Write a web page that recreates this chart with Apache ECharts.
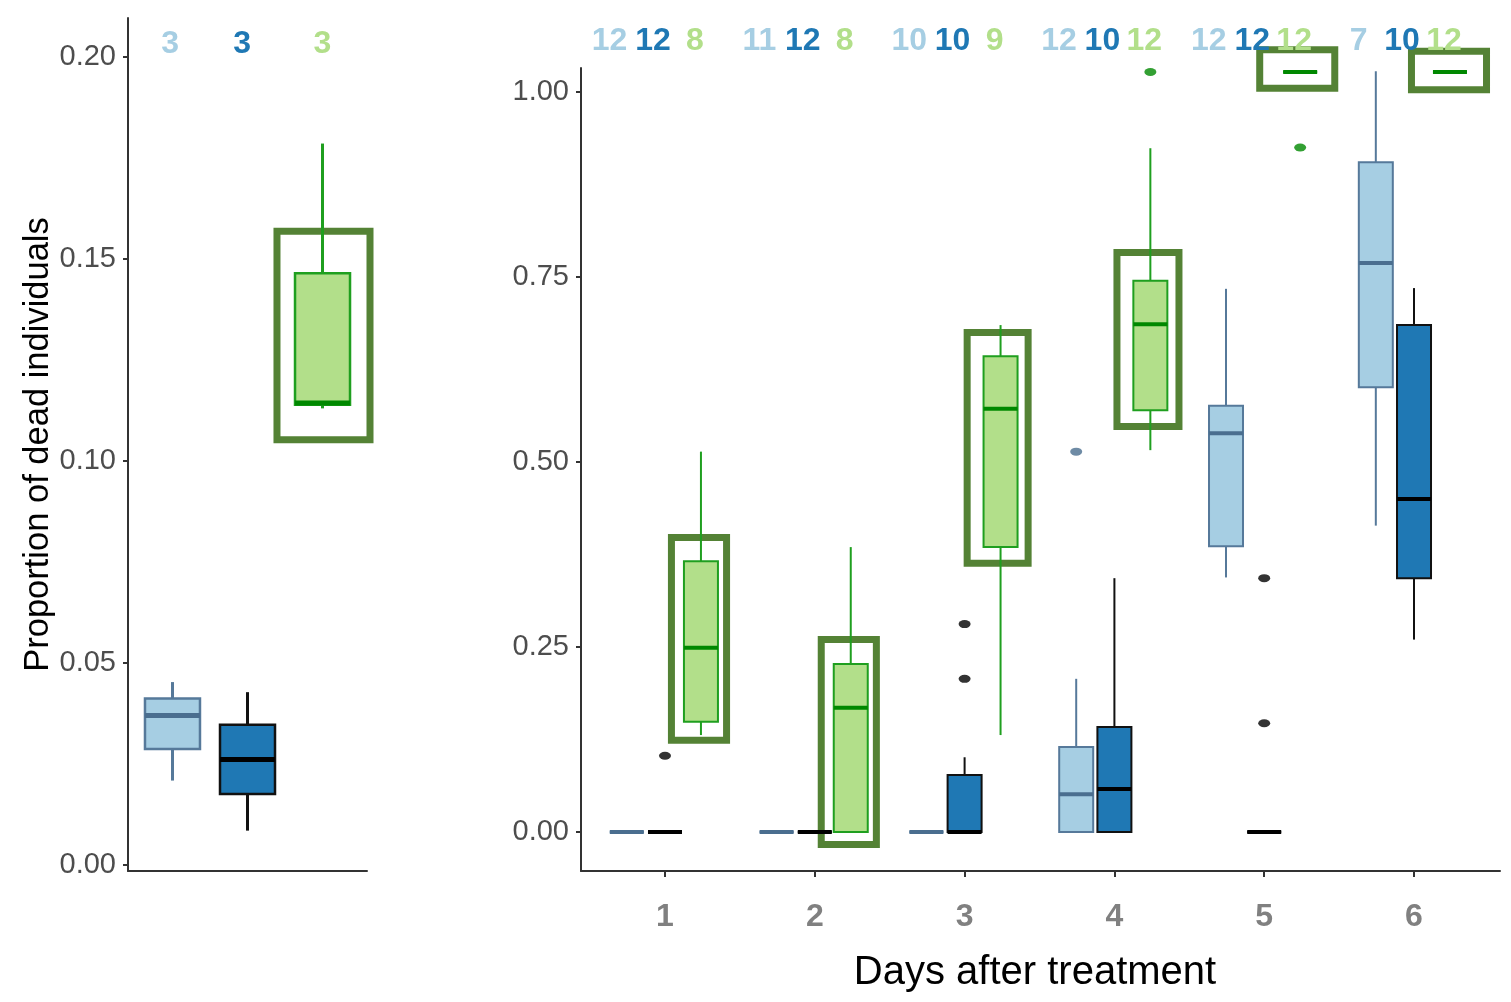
<!DOCTYPE html>
<html>
<head>
<meta charset="utf-8">
<script src="https://cdn.jsdelivr.net/npm/echarts@6/dist/echarts.min.js"></script>
<style>
  html, body { margin: 0; padding: 0; background: #fff; }
  #chart { width: 1511px; height: 1002px; }
</style>
</head>
<body>
<div id="chart"></div>
<script>
// stats are [min, q1, median, q3, max]
// left panel: pooled, one box per treatment
const pooledStats = [
  [0.0208, 0.0286, 0.0369, 0.0411, 0.0452],
  [0.0084, 0.0175, 0.0260, 0.0346, 0.0427],
  [0.1130, 0.1139, 0.1143, 0.1465, 0.1786]
]
const pooledCounts = [3, 3, 3]
// highlight frame around the green box [x1, y1, x2, y2]
const pooledHighlight = [[2.393, 0.1569, 3.633, 0.1052]]

// right panel: per day
const days = [1, 2, 3, 4, 5, 6]
const lightBlueStats = [
  [0, 0, 0, 0, 0],
  [0, 0, 0, 0, 0],
  [0, 0, 0, 0, 0],
  [0, 0, 0.051, 0.115, 0.207],
  [0.344, 0.386, 0.539, 0.576, 0.734],
  [0.414, 0.601, 0.769, 0.905, 1.028]
]
const darkBlueStats = [
  [0, 0, 0, 0, 0],
  [0, 0, 0, 0, 0],
  [0, 0, 0, 0.077, 0.101],
  [0, 0, 0.058, 0.142, 0.343],
  [0, 0, 0, 0, 0],
  [0.260, 0.343, 0.450, 0.685, 0.735]
]
const greenStats = [
  [0.131, 0.149, 0.249, 0.366, 0.514],
  [0, 0, 0.168, 0.227, 0.385],
  [0.131, 0.385, 0.572, 0.643, 0.685],
  [0.516, 0.570, 0.686, 0.745, 0.924],
  [1.027, 1.027, 1.027, 1.027, 1.027],
  [1.027, 1.027, 1.027, 1.027, 1.027]
]
// outliers [day, value]
const lightBlueOutliers = [[4, 0.514]]
const darkBlueOutliers = [[1, 0.103], [3, 0.281], [3, 0.207], [5, 0.343], [5, 0.147]]
const greenOutliers = [[4, 1.027], [5, 0.925]]

const lightBlueCounts = [12, 11, 10, 12, 12, 7]
const darkBlueCounts = [12, 12, 10, 10, 12, 10]
const greenCounts = [8, 8, 9, 12, 12, 12]

const dailyHighlights = [
  [1.043, 0.398, 1.411, 0.124],
  [2.043, 0.260, 2.411, -0.017],
  [3.017, 0.675, 3.424, 0.363],
  [4.017, 0.783, 4.431, 0.548],
  [4.970, 1.057, 5.471, 1.005],
  [5.983, 1.055, 6.484, 1.003]
]

// styling
const groupStyles = [
  { fill: '#a6cee3', line: '#56799a', median: '#4a6e8f', text: '#a6cee3' },
  { fill: '#1f78b4', line: '#111111', median: '#000000', text: '#1f78b4' },
  { fill: '#b2df8a', line: '#1f9f1f', median: '#008800', text: '#b2df8a' }
]
const GROUP_OFFSET = [-0.255, 0, 0.24]
const COUNT_OFFSET = [-0.37, -0.08, 0.2]
const POOLED_COUNT_OFFSET = [-0.03, -0.07, 0]
const SANS = '"Liberation Sans", Arial, sans-serif'
const FRAME_COLOR = '#548235'

const pooledBoxData = pooledStats.map((s, g) => [g + 1, ...s, g])
const pooledCountData = pooledCounts.map((c, g) => [g + 1 + POOLED_COUNT_OFFSET[g], c, g])

const groupStats = [lightBlueStats, darkBlueStats, greenStats]
const groupCounts = [lightBlueCounts, darkBlueCounts, greenCounts]
const groupOutliers = [lightBlueOutliers, darkBlueOutliers, greenOutliers]
const dailyBoxData = []
const dailyCountData = []
days.forEach((d, i) => {
  groupStats.forEach((arr, g) => {
    dailyBoxData.push([d + GROUP_OFFSET[g], ...arr[i], g])
    dailyCountData.push([d + COUNT_OFFSET[g], groupCounts[g][i], g])
  })
})

function boxRenderer(boxW, border, whisker, medianW) {
  return function (params, api) {
    const x = api.value(0)
    const st = groupStyles[api.value(6)]
    const lo = api.coord([x, api.value(1)])
    const q1 = api.coord([x, api.value(2)])
    const md = api.coord([x, api.value(3)])
    const q3 = api.coord([x, api.value(4)])
    const hi = api.coord([x, api.value(5)])
    const cx = lo[0]
    const half = boxW / 2
    return {
      type: 'group',
      children: [
        { type: 'line', shape: { x1: cx, y1: q3[1], x2: cx, y2: hi[1] }, style: { stroke: st.line, lineWidth: whisker } },
        { type: 'line', shape: { x1: cx, y1: q1[1], x2: cx, y2: lo[1] }, style: { stroke: st.line, lineWidth: whisker } },
        { type: 'rect', shape: { x: cx - half, y: q3[1], width: boxW, height: q1[1] - q3[1] }, style: { fill: st.fill, stroke: st.line, lineWidth: border } },
        { type: 'line', shape: { x1: cx - half, y1: md[1], x2: cx + half, y2: md[1] }, style: { stroke: st.median, lineWidth: medianW } }
      ]
    }
  }
}

function countRenderer(yVal) {
  return function (params, api) {
    const p = api.coord([api.value(0), yVal])
    return {
      type: 'text',
      x: p[0],
      y: p[1],
      style: {
        text: String(api.value(1)),
        fill: groupStyles[api.value(2)].text,
        font: 'bold 32px ' + SANS,
        align: 'center',
        verticalAlign: 'middle'
      }
    }
  }
}

function frameRenderer(params, api) {
  const a = api.coord([api.value(0), api.value(1)])
  const b = api.coord([api.value(2), api.value(3)])
  return {
    type: 'rect',
    shape: { x: a[0], y: a[1], width: b[0] - a[0], height: b[1] - a[1] },
    style: { fill: 'none', stroke: FRAME_COLOR, lineWidth: 7 }
  }
}

const axisLine = { show: true, onZero: false, lineStyle: { color: '#333', width: 2 } }
const tickLabel = { color: '#4d4d4d', fontSize: 29, fontFamily: SANS, margin: 12 }

const outlierSeries = groupOutliers.map((pts, g) => ({
  type: 'scatter',
  xAxisIndex: 1,
  yAxisIndex: 1,
  clip: false,
  z: 4,
  symbol: 'circle',
  symbolSize: [12, 8],
  itemStyle: { color: groupStyles[g].median },
  data: pts.map(p => [p[0] + GROUP_OFFSET[g], p[1]])
}))

const myChart = echarts.init(document.getElementById('chart'))

const option = {
  animation: false,
  backgroundColor: '#fff',
  grid: [
    { left: 128, top: 18, width: 239, height: 853 },
    { left: 581, top: 68, width: 919, height: 803 }
  ],
  xAxis: [
    {
      type: 'value', gridIndex: 0, min: 0.407, max: 3.593,
      axisLine: axisLine, axisTick: { show: false }, axisLabel: { show: false }, splitLine: { show: false }
    },
    {
      type: 'value', gridIndex: 1, min: 0.4393, max: 6.574,
      axisLine: axisLine,
      axisTick: { show: true, customValues: days, length: 6, lineStyle: { color: '#333', width: 2 } },
      axisLabel: {
        customValues: days, color: '#808080', fontSize: 32, fontWeight: 'bold', fontFamily: SANS, margin: 30
      },
      splitLine: { show: false },
      name: 'Days after treatment',
      nameLocation: 'middle',
      nameGap: 82,
      nameTextStyle: { color: '#000', fontSize: 40, fontFamily: SANS, padding: [0, 11, 0, 0] }
    }
  ],
  yAxis: [
    {
      type: 'value', gridIndex: 0, min: -0.0016, max: 0.2097,
      axisLine: axisLine,
      axisTick: { show: true, customValues: [0, 0.05, 0.1, 0.15, 0.2], length: 5, lineStyle: { color: '#333', width: 2 } },
      axisLabel: Object.assign({ customValues: [0, 0.05, 0.1, 0.15, 0.2], formatter: v => v.toFixed(2) }, tickLabel),
      splitLine: { show: false },
      name: 'Proportion of dead individuals',
      nameLocation: 'middle',
      nameGap: 70,
      nameTextStyle: { color: '#000', fontSize: 34.5, fontFamily: SANS }
    },
    {
      type: 'value', gridIndex: 1, min: -0.0527, max: 1.0324,
      axisLine: axisLine,
      axisTick: { show: true, customValues: [0, 0.25, 0.5, 0.75, 1], length: 5, lineStyle: { color: '#333', width: 2 } },
      axisLabel: Object.assign({ customValues: [0, 0.25, 0.5, 0.75, 1], formatter: v => v.toFixed(2) }, tickLabel),
      splitLine: { show: false }
    }
  ],
  series: [
    {
      type: 'custom', name: 'pooled frame', xAxisIndex: 0, yAxisIndex: 0, z: 1,
      renderItem: frameRenderer, encode: { x: [0, 2], y: [1, 3] }, data: pooledHighlight
    },
    {
      type: 'custom', name: 'pooled', xAxisIndex: 0, yAxisIndex: 0, z: 2,
      renderItem: boxRenderer(55, 2.5, 3, 5), encode: { x: 0, y: [1, 2, 3, 4, 5] }, data: pooledBoxData
    },
    {
      type: 'custom', name: 'pooled n', xAxisIndex: 0, yAxisIndex: 0, z: 3,
      renderItem: countRenderer(0.2032), encode: { x: 0, y: 1 }, data: pooledCountData
    },
    {
      type: 'custom', name: 'daily frame', xAxisIndex: 1, yAxisIndex: 1, z: 1,
      renderItem: frameRenderer, encode: { x: [0, 2], y: [1, 3] }, data: dailyHighlights
    },
    {
      type: 'custom', name: 'daily', xAxisIndex: 1, yAxisIndex: 1, z: 2,
      renderItem: boxRenderer(34, 2, 2, 4), encode: { x: 0, y: [1, 2, 3, 4, 5] }, data: dailyBoxData
    },
    {
      type: 'custom', name: 'daily n', xAxisIndex: 1, yAxisIndex: 1, z: 3,
      renderItem: countRenderer(1.069), encode: { x: 0, y: 1 }, data: dailyCountData
    },
    ...outlierSeries
  ]
}

myChart.setOption(option)
</script>
</body>
</html>
